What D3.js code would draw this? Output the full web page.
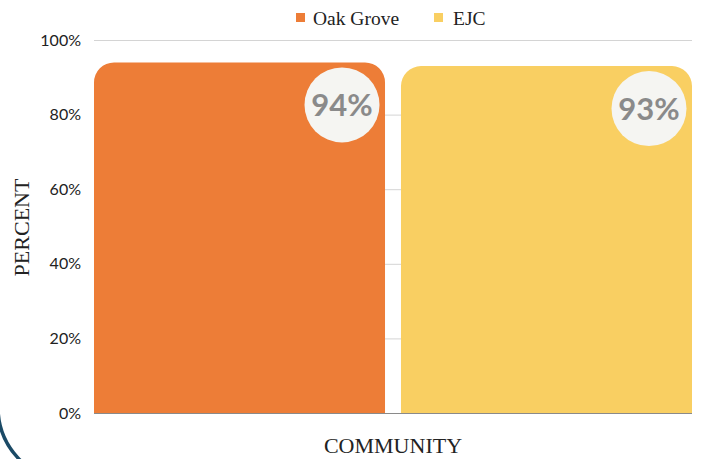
<!DOCTYPE html>
<html>
<head>
<meta charset="utf-8">
<script src="https://cdn.jsdelivr.net/npm/d3@7"></script>
<style>
html,body{margin:0;padding:0;background:#fff;}
svg{display:block;}
</style>
</head>
<body>
<svg id="chart" width="702" height="459"></svg>
<script>
const categories = ["Oak Grove", "EJC"];
const values = [94, 93];
const labels = ["94%", "93%"];
const colors = ["#ED7D37", "#F9CF62"];
const yTicks = [0, 20, 40, 60, 80, 100];
const yTitle = "PERCENT";
const xTitle = "COMMUNITY";

const W = 702, H = 459;
const margin = {left: 94, right: 10, top: 40, bottom: 46};
const svg = d3.select("#chart");

// decorative arc bottom-left
svg.append("path")
  .attr("d", d3.arc()({innerRadius: 75, outerRadius: 75, startAngle: 3.2, endAngle: 4.75}))
  .attr("transform", "translate(73,407)")
  .attr("fill", "none")
  .attr("stroke", "#1B4A66")
  .attr("stroke-width", 3.5);

const x = d3.scaleBand().domain(categories).range([margin.left, W - margin.right]).paddingInner(0.052).paddingOuter(0);
const y = d3.scaleLinear().domain([0, 100]).range([H - margin.bottom, margin.top]);

// gridlines
svg.append("g").selectAll("line").data(yTicks.filter(d => d > 0)).join("line")
  .attr("x1", margin.left).attr("x2", W - margin.right)
  .attr("y1", d => y(d) + 0.5).attr("y2", d => y(d) + 0.5)
  .attr("stroke", "#d4d4d4").attr("stroke-width", 1);

// y axis labels
const yAxis = d3.axisLeft(y).tickValues(yTicks).tickFormat(d => d + "%").tickSize(0).tickPadding(13);
const ga = svg.append("g").attr("transform", `translate(${margin.left},0)`).call(yAxis);
ga.select(".domain").remove();
ga.selectAll("text").attr("font-family", "Lato, sans-serif").attr("font-size", 16).attr("fill", "#222");

// baseline
svg.append("line").attr("x1", margin.left).attr("x2", W - margin.right)
  .attr("y1", y(0) + 0.5).attr("y2", y(0) + 0.5).attr("stroke", "#8a8a8a").attr("stroke-width", 1);

// bars with rounded top corners
const r = 20;
function barPath(x0, w, yt, yb) {
  return `M${x0},${yb}L${x0},${yt + r}A${r},${r} 0 0 1 ${x0 + r},${yt}L${x0 + w - r},${yt}A${r},${r} 0 0 1 ${x0 + w},${yt + r}L${x0 + w},${yb}Z`;
}
svg.append("g").selectAll("path").data(categories).join("path")
  .attr("d", (c, i) => barPath(x(c), x.bandwidth(), y(values[i]), y(0)))
  .attr("fill", (c, i) => colors[i]);

// label bubbles
const lg = svg.append("g").selectAll("g").data(categories).join("g")
  .attr("transform", (c, i) => `translate(${x(c) + x.bandwidth() - 43},${y(values[i]) + 42.5})`);
lg.append("circle").attr("r", 37.5).attr("fill", "#F5F5F2");
lg.append("text").text((c, i) => labels[i])
  .attr("text-anchor", "middle").attr("dy", "0.36em")
  .attr("font-family", "Lato, sans-serif").attr("font-weight", 700).attr("font-size", 31)
  .attr("fill", "#8A8A8A");

// legend
const legend = [{i: 0, sx: 296, tx: 313}, {i: 1, sx: 434, tx: 453}];
const leg = svg.append("g").selectAll("g").data(legend).join("g");
leg.append("rect").attr("x", d => d.sx).attr("y", 13).attr("width", 9).attr("height", 9)
  .attr("fill", d => colors[d.i]);
leg.append("text").attr("x", d => d.tx).attr("y", 24.5).text(d => categories[d.i])
  .attr("font-family", "'Liberation Serif', serif").attr("font-size", 19.5).attr("fill", "#222");

// axis titles
svg.append("text").attr("transform", `translate(29,${(y(0) + y(100)) / 2 + 1}) rotate(-90)`)
  .attr("text-anchor", "middle").text(yTitle)
  .attr("font-family", "'Liberation Serif', serif").attr("font-size", 22).attr("fill", "#222");
svg.append("text").attr("x", (margin.left + W - margin.right) / 2).attr("y", 453)
  .attr("text-anchor", "middle").text(xTitle)
  .attr("font-family", "'Liberation Serif', serif").attr("font-size", 22).attr("fill", "#222");
</script>
</body>
</html>
